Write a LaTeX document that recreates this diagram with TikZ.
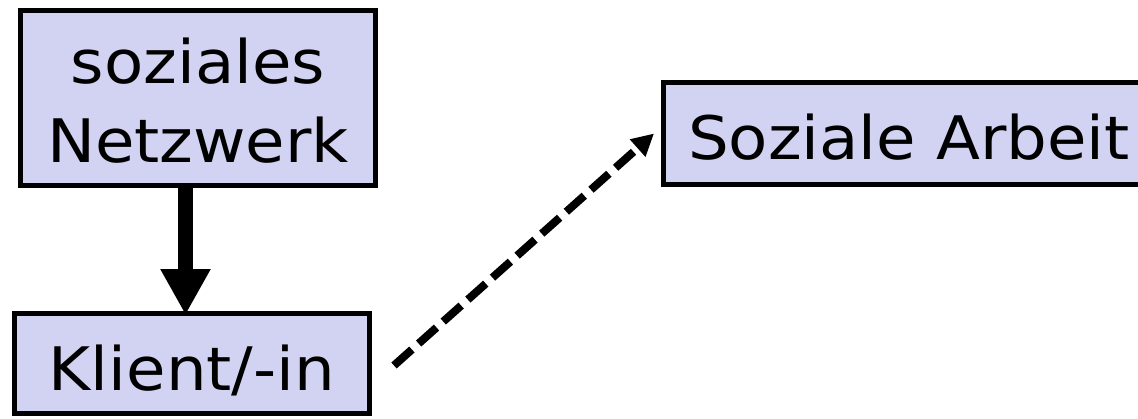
\documentclass[tikz,border=0pt]{standalone}
\usepackage{fontspec}
\setmainfont[FakeStretch=1.07]{DejaVu Sans}
\usetikzlibrary{arrows.meta,calc}
\definecolor{boxfill}{RGB}{210,210,242}
\begin{document}
\begin{tikzpicture}[x=1pt,y=-1pt,
  box/.style={draw=black,fill=boxfill,line width=5pt,rectangle,inner sep=0pt,
    font=\fontsize{60}{79}\selectfont,align=center},
  bigarrow/.style={line width=15pt,-{Triangle[length=46pt,width=47pt]}},
  dasharrow/.style={line width=8pt,dash pattern=on 24pt off 9pt,-{Triangle[length=22pt,width=22pt]}}]
\useasboundingbox (0,0) rectangle (1138,418);
\node[box,minimum width=355pt,minimum height=175pt,text height=128pt,text depth=0pt] (netz) at (198,98) {soziales\\Netzwerk};
\node[box,minimum width=355pt,minimum height=100pt,text height=53pt,text depth=0pt] (klient) at (192,363.5) {Klient/-in};
\node[box,minimum width=480pt,minimum height=102pt,text height=52pt,text depth=0pt,text width=431pt,align=left] (arbeit) at (903.5,133.5) {\mbox{Soziale Arbeit}};
\draw[bigarrow] ($(netz.south)+(-12.5,-2.5)$) -- ($(klient.north)+(-6.5,4)$);
\coordinate (dstart) at ($(klient.east)+(22,2)$);
\coordinate (dend) at ($(arbeit.west)+(-7,0)$);
\draw[dasharrow] (dstart) -- (dend);
\end{tikzpicture}
\end{document}
